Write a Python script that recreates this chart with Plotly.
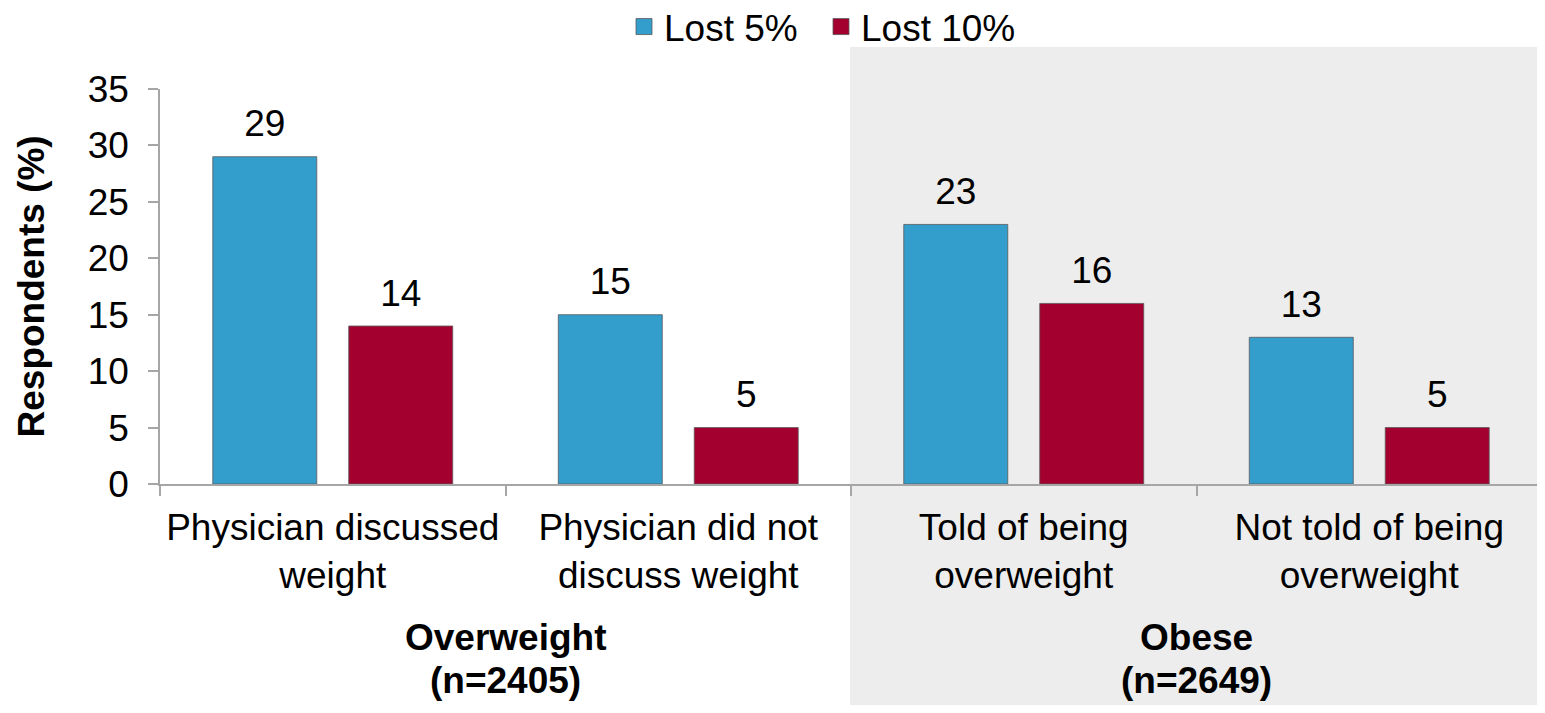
import plotly.graph_objects as go

categories = ["Physician discussed<br>weight", "Physician did not<br>discuss weight",
              "Told of being<br>overweight", "Not told of being<br>overweight"]
lost5 = [29, 15, 23, 13]
lost10 = [14, 5, 16, 5]
series_names = ["Lost 5%", "Lost 10%"]
group_titles = ["Overweight", "Obese"]
group_ns = ["(n=2405)", "(n=2649)"]
group_positions = [0.5, 2.5]
y_ticks = [0, 5, 10, 15, 20, 25, 30, 35]

BLUE = "#339DCC"
RED = "#A3002F"
FONT = "Liberation Sans, Arial, sans-serif"
FS = 37

# page body has an 8px margin: figure is drawn at (8, 8) in the screenshot
OFF = 8
W, H = 1545 - OFF, 713 - 2 * OFF
L = 160 - OFF
T = 89 - OFF
B = H - (484 - OFF)
R = W - (1542 - OFF)
PW = W - L - R
PH = H - T - B


def px_x(p):  # screenshot px -> paper
    return (p - OFF - L) / PW


def px_y(p):
    return (H - B - (p - OFF)) / PH


fig = go.Figure()
legends = ["legend", "legend2"]
for name, vals, col, lg, grp in [(series_names[0], lost5, BLUE, legends[0], "a"),
                                 (series_names[1], lost10, RED, legends[1], "b")]:
    fig.add_trace(go.Bar(
        x=categories, y=vals, name=name, showlegend=False, offsetgroup=grp,
        marker=dict(color=col, line=dict(color="rgba(90,90,90,0.8)", width=1)),
    ))
    fig.add_trace(go.Scatter(
        x=categories, y=vals, name=name, showlegend=False, offsetgroup=grp,
        mode="markers+text", text=[str(v) for v in vals], textposition="top center",
        textfont=dict(size=FS, color="black", family=FONT),
        marker=dict(size=16, opacity=0), cliponaxis=False, hoverinfo="skip",
    ))
    fig.add_trace(go.Scatter(
        x=[None], y=[None], mode="markers", name=name, legend=lg,
        marker=dict(symbol="square", size=16, color=col,
                    line=dict(color="rgba(90,90,90,0.8)", width=1)),
    ))

fig.add_shape(type="rect", xref="paper", yref="paper",
              x0=px_x(850), x1=px_x(1560), y0=px_y(720), y1=px_y(47),
              fillcolor="#EDEDED", line=dict(width=0), layer="below")

for title, n, pos in zip(group_titles, group_ns, group_positions):
    fig.add_annotation(x=pos, xref="x", y=px_y(637), yref="paper",
                       text=f"<b>{title}</b>", showarrow=False, yanchor="middle",
                       font=dict(size=FS, color="black", family=FONT))
    fig.add_annotation(x=pos, xref="x", y=px_y(680), yref="paper",
                       text=f"<b>{n}</b>", showarrow=False, yanchor="middle",
                       font=dict(size=FS, color="black", family=FONT))

fig.add_annotation(x=px_x(31), xref="paper", y=0.5, yref="paper",
                   text="<b>Respondents (%)</b>", textangle=-90, showarrow=False,
                   xanchor="center", yanchor="middle",
                   font=dict(size=FS, color="black", family=FONT))

leg_common = dict(orientation="h", xanchor="left", yref="container",
                  y=1 - (27 - OFF) / H, yanchor="middle",
                  font=dict(size=FS, color="black", family=FONT),
                  bgcolor="rgba(0,0,0,0)")

fig.update_layout(
    width=W, height=H,
    margin=dict(l=L, r=R, t=T, b=B, autoexpand=False),
    paper_bgcolor="white", plot_bgcolor="rgba(0,0,0,0)",
    barmode="group", scattermode="group", bargap=0.213, bargroupgap=0.235,
    font=dict(family=FONT, size=FS, color="black"),
    legend=dict(x=px_x(624), **leg_common),
    legend2=dict(x=px_x(821), **leg_common),
    xaxis=dict(showline=True, linecolor="#A6A6A6", linewidth=1.5, automargin=False,
               ticks="outside", ticklen=10, tickcolor="#A6A6A6", tickwidth=1.5,
               tickson="boundaries", tickfont=dict(size=FS, family=FONT, color="black"),
               ticklabelstandoff=10, showgrid=False),
    yaxis=dict(range=[0, 35], tickvals=y_ticks, showline=True, linecolor="#A6A6A6",
               linewidth=1.5, ticks="outside", ticklen=10, tickcolor="#A6A6A6",
               tickwidth=1.5, showgrid=False, zeroline=False, automargin=False,
               ticklabelstandoff=12,
               tickfont=dict(size=FS, family=FONT, color="black")),
)

fig.write_html("out.html")
